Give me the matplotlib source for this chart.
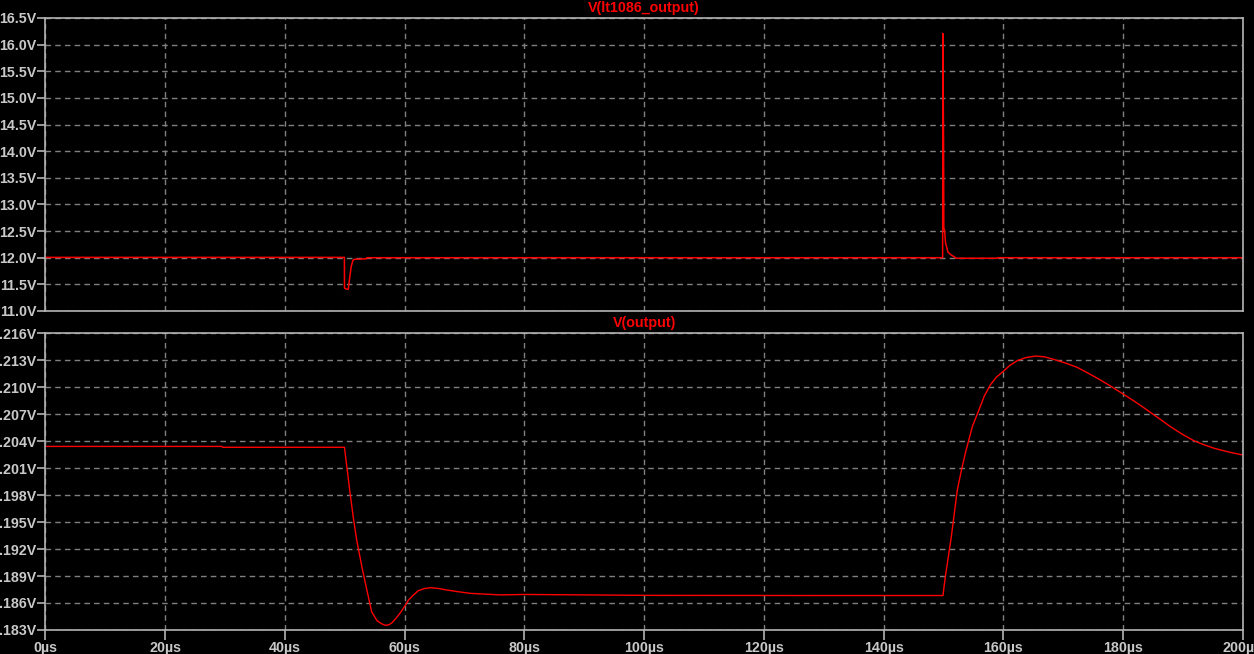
import numpy as np
import matplotlib
matplotlib.use('Agg')
import matplotlib.pyplot as plt
from matplotlib.ticker import FixedLocator

# V(lt1086_output) : time (us), volts
t_top = [0, 49.95, 49.97, 50.3, 50.6, 50.8, 51.08, 51.36, 51.58, 53.6, 53.7,
         149.85, 149.88, 150.0, 150.05, 150.16, 150.33, 150.5, 150.72, 151.16,
         151.72, 152.16, 158.9, 159.0, 200]
v_top = [12.006, 12.006, 11.43, 11.41, 11.41, 11.595, 11.83, 11.945, 11.97, 11.98, 12.0,
         12.0, 16.21, 14.21, 12.53, 12.53, 12.28, 12.21, 12.11, 12.06,
         12.02, 11.99, 11.99, 12.0, 12.0]

# V(output) : time (us), volts
t_out = [0, 29.5, 29.6, 49.96, 50.36, 50.9, 51.46, 52.0, 52.87, 53.7, 54.5, 55.4,
         56.2, 56.8, 57.4, 57.9, 58.6, 59.3, 60.0, 60.65, 61.5, 62.3, 63.3, 64.3, 65.6, 67.1, 69, 71, 76, 80, 90, 100, 128, 140,
         149.9, 150.3, 151.3, 152.3, 153.0, 153.7, 154.8, 155.9, 156.8, 157.8, 158.8, 159.9, 161.0, 162.3, 163.8,
         165.4, 166.9, 168.4, 170.3, 172.3, 174.2, 176.2, 178.0, 179.8, 182.0, 184.0, 186.0, 187.9, 189.8, 191.8, 193.5, 195.2, 197.6, 200]
v_out = [.2034, .2034, .2033, .2033, .20114, .19819, .1954, .193, .19003, .18744, .18503, .18403,
         .18368, .18352, .18358, .18381, .18432, .18492, .18562, .18633, .18690, .18737, .18760, .1877, .18762, .18744, .18725, .18707, .1869, .18695, .1869, .18685, .18683, .18683,
         .18683, .18892, .19337, .19856, .2008, .2028, .20559, .20744, .20898, .21022, .21108, .2117, .21236, .21293, .21328,
         .21344, .21335, .21307, .21268, .21219, .21152, .21078, .21006, .2093, .20836, .20744, .20650, .20559, .20478, .20403, .20358, .20319, .20278, .20244]

x_ticks = [0, 20, 40, 60, 80, 100, 120, 140, 160, 180, 200]
x_labels = ['0µs', '20µs', '40µs', '60µs', '80µs', '100µs', '120µs', '140µs', '160µs', '180µs', '200µs']
top_ticks = [11.0, 11.5, 12.0, 12.5, 13.0, 13.5, 14.0, 14.5, 15.0, 15.5, 16.0, 16.5]
top_labels = ['11.0V', '11.5V', '12.0V', '12.5V', '13.0V', '13.5V', '14.0V', '14.5V', '15.0V', '15.5V', '16.0V', '16.5V']
bot_ticks = [.183, .186, .189, .192, .195, .198, .201, .204, .207, .210, .213, .216]
bot_labels = ['.183V', '.186V', '.189V', '.192V', '.195V', '.198V', '.201V', '.204V', '.207V', '.210V', '.213V', '.216V']

txt = '#c8c8c8'
frame = '#b4b4b4'
grid = '#808080'
font = {'family': 'Liberation Sans', 'weight': 'bold', 'size': 10.3}

fig = plt.figure(figsize=(12.54, 6.54), dpi=100)
fig.patch.set_facecolor('black')

ax1 = fig.add_axes([0.0361, 0.5245, 0.9551, 0.448])
ax2 = fig.add_axes([0.0361, 0.0367, 0.9551, 0.4541])

def style(ax, yticks, ylabels, show_x):
    ax.set_facecolor('black')
    for s in ax.spines.values():
        s.set_color(frame)
        s.set_linewidth(1.2)
    ax.set_xlim(0, 200)
    ax.set_ylim(yticks[0], yticks[-1])
    ax.xaxis.set_major_locator(FixedLocator(x_ticks))
    ax.set_yticks(yticks)
    ax.set_yticklabels(ylabels, color=txt, fontdict=font)
    if show_x:
        ax.set_xticklabels(x_labels, color=txt, fontdict=font)
        ax.tick_params(axis='x', colors=frame, length=7, width=1.2, pad=1)
    else:
        ax.tick_params(axis='x', length=0, labelbottom=False)
    ax.tick_params(axis='y', colors=frame, length=6, width=1.2, pad=0.5)
    for lab in ax.get_xticklabels() + ax.get_yticklabels():
        lab.set_color(txt)
    ax.grid(True, color=grid, linestyle=(0, (4, 3)), linewidth=1.0)
    ax.set_axisbelow(True)

style(ax1, top_ticks, top_labels, False)
style(ax2, bot_ticks, bot_labels, True)

ax1.plot(t_top, v_top, color='red', linewidth=1.1)
ax2.plot(t_out, v_out, color='red', linewidth=1.0)

fig.text(0.5 + 0.0361 / 2 - 0.0088 / 2, 1 - 8 / 654, 'V(lt1086_output)', color='red', ha='center', va='center', fontdict=font)
fig.text(0.5 + 0.0361 / 2 - 0.0088 / 2, 1 - 323 / 654, 'V(output)', color='red', ha='center', va='center', fontdict=font)

fig.savefig('out.png', dpi=100, facecolor='black')
